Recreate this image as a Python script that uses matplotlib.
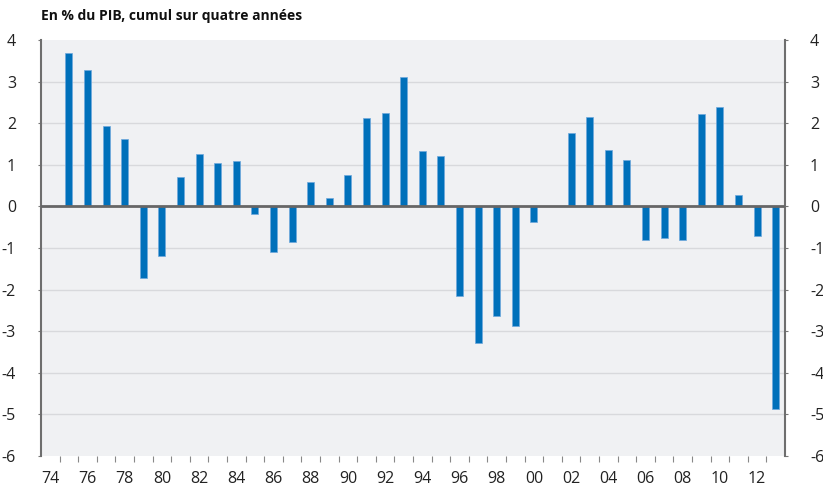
import matplotlib
matplotlib.use("Agg")
import matplotlib.pyplot as plt
import numpy as np

years = list(range(1974, 2014))
values = [0.0, 3.69, 3.27, 1.93, 1.61, -1.71, -1.19, 0.71, 1.26, 1.05,
          1.08, -0.19, -1.10, -0.86, 0.59, 0.20, 0.76, 2.12, 2.24, 3.12,
          1.34, 1.20, -2.15, -3.29, -2.63, -2.88, -0.38, 0.0, 1.76, 2.14,
          1.36, 1.11, -0.81, -0.75, -0.81, 2.22, 2.39, 0.28, -0.71, -4.86]
y_ticks = [4, 3, 2, 1, 0, -1, -2, -3, -4, -5, -6]
title = "En % du PIB, cumul sur quatre années"

plt.rcParams['font.family'] = ['Open Sans', 'DejaVu Sans']

fig = plt.figure(figsize=(8.23, 4.87), dpi=100)
ax = fig.add_axes([41/823, 1-456/487, (785-41)/823, (456-40)/487])
ax.set_facecolor('#F0F1F3')

x = np.arange(len(years))
ax.bar(x, values, width=0.38, color='#0070BA', edgecolor='#6FA8DC', linewidth=0.5, zorder=3)

ax.set_xlim(-0.5, len(years) - 0.5)
ax.set_ylim(-6, 4)
ax.set_yticks(y_ticks)
ax.set_yticklabels([str(v) for v in y_ticks])
for v in y_ticks:
    if v not in (0, -6, 4):
        ax.axhline(v, color='#D8D9DC', lw=1.0, zorder=1)
ax.axhline(0, color='#666666', lw=2.0, zorder=4)

# x ticks labels every two years, centered on categories
lab_idx = [i for i, y in enumerate(years) if y % 2 == 0]
ax.set_xticks(lab_idx)
ax.set_xticklabels([f"{years[i] % 100:02d}" for i in lab_idx], fontsize=11.5, color='#222222')
ax.set_xticks(np.arange(0.5, len(years) - 0.5, 1.0), minor=True)
ax.tick_params(axis='x', which='major', length=0, pad=11)
ax.tick_params(axis='x', which='minor', length=4, width=0.8, color='#888888', direction='out')

ax.tick_params(axis='y', which='major', labelsize=11.5, labelcolor='#222222', length=2,
               width=0.8, color='#777777', pad=16, labelright=True, right=True)
for lab in ax.get_yticklabels(which='major'):
    pass
# right side ticks longer: use secondary approach via tick params per side
ax.yaxis.set_tick_params(which='major', right=True, labelright=True)
for t in ax.yaxis.get_major_ticks():
    t.tick2line.set_markersize(7)
    t.label2.set_x(1.0)
    t.set_pad(16)
for t in ax.yaxis.get_major_ticks():
    t.label2.set_horizontalalignment('left')

for s in ['top', 'bottom']:
    ax.spines[s].set_visible(False)
for s in ['left', 'right']:
    ax.spines[s].set_color('#6E6E6E')
    ax.spines[s].set_linewidth(1.5)

fig.text(41/823, 1-20/487, title, fontsize=10, fontweight='bold', color='#111111',
         ha='left', va='baseline')

fig.savefig('out.png', dpi=100)
